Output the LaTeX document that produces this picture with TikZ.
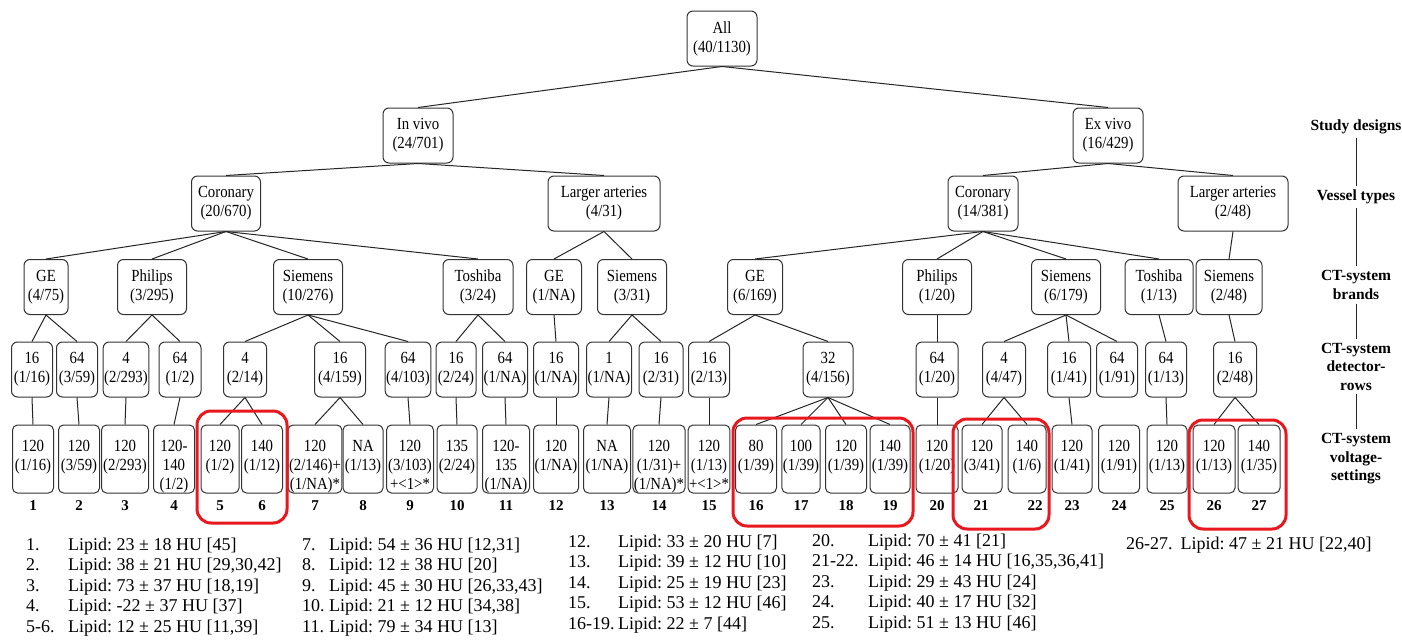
\documentclass[tikz,border=0pt]{standalone}
\usepackage{fontspec}
\setmainfont{Liberation Serif}
\newfontfamily\boxfont[FakeStretch=0.87]{Liberation Serif}
\definecolor{framered}{RGB}{232,24,30}
\frenchspacing
% voltage boxes: text hangs from the top of the box
\newcommand{\vlines}[1]{\raisebox{0pt}[26pt][42pt]{\begin{tabular}[t]{@{}c@{}}#1\end{tabular}}}

\begin{document}
\begin{tikzpicture}[x=1pt, y=-1pt,
    box/.style = {draw=black!80, line width=1pt, rounded corners=6pt, inner sep=1pt,
        font=\boxfont\fontsize{17}{19}\selectfont, align=center, minimum height=55pt},
    volt/.style = {box, rounded corners=5pt, inner ysep=0pt},
    link/.style = {line width=1pt, black!85},
    num/.style = {font=\bfseries\fontsize{15}{17}\selectfont, inner sep=0pt},
    tier/.style = {font=\bfseries\fontsize{15.5}{18.5}\selectfont, align=center, inner sep=4pt},
    redframe/.style = {draw=framered, line width=3pt, rounded corners=14pt},
    legtext/.style = {font=\fontsize{18}{20.5}\selectfont, inner sep=0pt, anchor=base west}]

    \path[use as bounding box, fill=white] (0,0) rectangle (1402,640);

    % study designs
    \node [box, minimum width=70pt] (all) at (722,38.5) {All\\(40/1130)};
    \node [box, minimum width=70pt] (invivo) at (418,135.5) {In vivo\\(24/701)};
    \node [box, minimum width=70pt] (exvivo) at (1108,135.5) {Ex vivo\\(16/429)};

    % vessel types
    \node [box, minimum width=69pt] (c1) at (226,203.5) {Coronary\\(20/670)};
    \node [box, minimum width=112pt] (c2) at (604,203.5) {Larger arteries\\(4/31)};
    \node [box, minimum width=70pt] (c3) at (983,203.5) {Coronary\\(14/381)};
    \node [box, minimum width=110pt] (c4) at (1233,203.5) {Larger arteries\\(2/48)};

    % brands
    \node [box, minimum width=44pt] (b1) at (46,287) {GE\\(4/75)};
    \node [box, minimum width=69pt] (b2) at (152,287) {Philips\\(3/295)};
    \node [box, minimum width=69pt] (b3) at (308,287) {Siemens\\(10/276)};
    \node [box, minimum width=70pt] (b4) at (478,287) {Toshiba\\(3/24)};
    \node [box, minimum width=55pt] (b5) at (554,287) {GE\\(1/NA)};
    \node [box, minimum width=69pt] (b6) at (632,287) {Siemens\\(3/31)};
    \node [box, minimum width=55pt] (b7) at (755,287) {GE\\(6/169)};
    \node [box, minimum width=69pt] (b8) at (937,287) {Philips\\(1/20)};
    \node [box, minimum width=69pt] (b9) at (1066,287) {Siemens\\(6/179)};
    \node [box, minimum width=68pt] (b10) at (1159,287) {Toshiba\\(1/13)};
    \node [box, minimum width=66pt] (b11) at (1229,287) {Siemens\\(2/48)};

    % detector rows
    \node [box, minimum width=41pt] (r1) at (32,369.5) {16\\(1/16)};
    \node [box, minimum width=41pt] (r2) at (77,369.5) {64\\(3/59)};
    \node [box, minimum width=45pt] (r3) at (126,369.5) {4\\(2/293)};
    \node [box, minimum width=42pt] (r4) at (180,369.5) {64\\(1/2)};
    \node [box, minimum width=43pt] (r5) at (245,369.5) {4\\(2/14)};
    \node [box, minimum width=51pt] (r6) at (340,369.5) {16\\(4/159)};
    \node [box, minimum width=44pt] (r7) at (408,369.5) {64\\(4/103)};
    \node [box, minimum width=40pt] (r8) at (456,369.5) {16\\(2/24)};
    \node [box, minimum width=45pt] (r9) at (505,369.5) {64\\(1/NA)};
    \node [box, minimum width=45pt] (r10) at (556,369.5) {16\\(1/NA)};
    \node [box, minimum width=45pt] (r11) at (609,369.5) {1\\(1/NA)};
    \node [box, minimum width=44pt] (r12) at (661,369.5) {16\\(2/31)};
    \node [box, minimum width=41pt] (r13) at (709,369.5) {16\\(2/13)};
    \node [box, minimum width=50pt] (r14) at (828,369.5) {32\\(4/156)};
    \node [box, minimum width=42pt] (r15) at (937,369.5) {64\\(1/20)};
    \node [box, minimum width=43pt] (r16) at (1004,369.5) {4\\(4/47)};
    \node [box, minimum width=43pt] (r17) at (1069,369.5) {16\\(1/41)};
    \node [box, minimum width=41pt] (r18) at (1117,369.5) {64\\(1/91)};
    \node [box, minimum width=41pt] (r19) at (1166,369.5) {64\\(1/13)};
    \node [box, minimum width=43pt] (r20) at (1235,369.5) {16\\(2/48)};

    % voltage settings
    \node [volt, minimum width=41pt] (v1) at (33,459) {\vlines{120\\(1/16)}};
    \node [volt, minimum width=41pt] (v2) at (79,459) {\vlines{120\\(3/59)}};
    \node [volt, minimum width=47pt] (v3) at (125,459) {\vlines{120\\(2/293)}};
    \node [volt, minimum width=41pt] (v4) at (174,459) {\vlines{120-\\140\\(1/2)}};
    \node [volt, minimum width=38pt] (v5) at (220,459) {\vlines{120\\(1/2)}};
    \node [volt, minimum width=41pt] (v6) at (262,459) {\vlines{140\\(1/12)}};
    \node [volt, minimum width=53pt] (v7) at (315,459) {\vlines{120\\(2/146)+\\(1/NA)*}};
    \node [volt, minimum width=40pt] (v8) at (363,459) {\vlines{NA\\(1/13)}};
    \node [volt, minimum width=47pt] (v9) at (410,459) {\vlines{120\\(3/103)\\+<1>*}};
    \node [volt, minimum width=40pt] (v10) at (457,459) {\vlines{135\\(2/24)}};
    \node [volt, minimum width=47pt] (v11) at (506,459) {\vlines{120-\\135\\(1/NA)}};
    \node [volt, minimum width=45pt] (v12) at (556,459) {\vlines{120\\(1/NA)}};
    \node [volt, minimum width=47pt] (v13) at (607,459) {\vlines{NA\\(1/NA)}};
    \node [volt, minimum width=52pt] (v14) at (659,459) {\vlines{120\\(1/31)+\\(1/NA)*}};
    \node [volt, minimum width=41pt] (v15) at (709,459) {\vlines{120\\(1/13)\\+<1>*}};
    \node [volt, minimum width=41pt] (v16) at (756,459) {\vlines{80\\(1/39)}};
    \node [volt, minimum width=37pt] (v17) at (801,459) {\vlines{100\\(1/39)}};
    \node [volt, minimum width=41pt] (v18) at (846,459) {\vlines{120\\(1/39)}};
    \node [volt, minimum width=40pt] (v19) at (890,459) {\vlines{140\\(1/39)}};
    \node [volt, minimum width=42pt] (v20) at (937,459) {\vlines{120\\(1/20)}};
    \node [volt, minimum width=40pt] (v21) at (982,459) {\vlines{120\\(3/41)}};
    \node [volt, minimum width=38pt] (v22) at (1027,459) {\vlines{140\\(1/6)}};
    \node [volt, minimum width=40pt] (v23) at (1072,459) {\vlines{120\\(1/41)}};
    \node [volt, minimum width=41pt] (v24) at (1119,459) {\vlines{120\\(1/91)}};
    \node [volt, minimum width=40pt] (v25) at (1167,459) {\vlines{120\\(1/13)}};
    \node [volt, minimum width=42pt] (v26) at (1214,459) {\vlines{120\\(1/13)}};
    \node [volt, minimum width=42pt] (v27) at (1259,459) {\vlines{140\\(1/35)}};

    % numbers
    \node [num] (n1) at (33,506) {1};
    \node [num] (n2) at (79,506) {2};
    \node [num] (n3) at (125,506) {3};
    \node [num] (n4) at (174,506) {4};
    \node [num] (n5) at (220,506) {5};
    \node [num] (n6) at (262,506) {6};
    \node [num] (n7) at (315,506) {7};
    \node [num] (n8) at (363,506) {8};
    \node [num] (n9) at (410,506) {9};
    \node [num] (n10) at (457,506) {10};
    \node [num] (n11) at (506,506) {11};
    \node [num] (n12) at (556,506) {12};
    \node [num] (n13) at (607,506) {13};
    \node [num] (n14) at (659,506) {14};
    \node [num] (n15) at (709,506) {15};
    \node [num] (n16) at (756,506) {16};
    \node [num] (n17) at (801,506) {17};
    \node [num] (n18) at (846,506) {18};
    \node [num] (n19) at (890,506) {19};
    \node [num] (n20) at (937,506) {20};
    \node [num] (n21) at (981,506) {21};
    \node [num] (n22) at (1035,506) {22};
    \node [num] (n23) at (1072,506) {23};
    \node [num] (n24) at (1119,506) {24};
    \node [num] (n25) at (1167,506) {25};
    \node [num] (n26) at (1214,506) {26};
    \node [num] (n27) at (1259,506) {27};

    % tree links
    \draw[link] (all.south) to (invivo.north);
    \draw[link] (all.south) to (exvivo.north);
    \draw[link] (invivo.south) to (c1.north);
    \draw[link] (invivo.south) to (c2.north);
    \draw[link] (exvivo.south) to (c3.north);
    \draw[link] (exvivo.south) to (c4.north);

    \draw[link] (c1.south) to (b1.north);
    \draw[link] (c1.south) to (b2.north);
    \draw[link] (c1.south) to (b3.north);
    \draw[link] (c1.south) to (b4.north);
    \draw[link] (c2.south) to (b5.north);
    \draw[link] (c2.south) to (b6.north);
    \draw[link] (c3.south) to (b7.north);
    \draw[link] (c3.south) to (b8.north);
    \draw[link] (c3.south) to (b9.north);
    \draw[link] (c3.south) to (b10.north);
    \draw[link] (c4.south) to (b11.north);

    \draw[link] (b1.south) to (r1.north);
    \draw[link] (b1.south) to (r2.north);
    \draw[link] (b2.south) to (r3.north);
    \draw[link] (b2.south) to (r4.north);
    \draw[link] (b3.south) to (r5.north);
    \draw[link] (b3.south) to (r6.north);
    \draw[link] (b3.south) to (r7.north);
    \draw[link] (b4.south) to (r8.north);
    \draw[link] (b4.south) to (r9.north);
    \draw[link] (b5.south) to (r10.north);
    \draw[link] (b6.south) to (r11.north);
    \draw[link] (b6.south) to (r12.north);
    \draw[link] (b7.south) to (r13.north);
    \draw[link] (b7.south) to (r14.north);
    \draw[link] (b8.south) to (r15.north);
    \draw[link] (b9.south) to (r16.north);
    \draw[link] (b9.south) to (r17.north);
    \draw[link] (b9.south) to (r18.north);
    \draw[link] (b10.south) to (r19.north);
    \draw[link] (b11.south) to (r20.north);

    \draw[link] (r1.south) to (v1.north);
    \draw[link] (r2.south) to (v2.north);
    \draw[link] (r3.south) to (v3.north);
    \draw[link] (r4.south) to (v4.north);
    \draw[link] (r5.south) to (v5.north);
    \draw[link] (r5.south) to (v6.north);
    \draw[link] (r6.south) to (v7.north);
    \draw[link] (r6.south) to (v8.north);
    \draw[link] (r7.south) to (v9.north);
    \draw[link] (r8.south) to (v10.north);
    \draw[link] (r9.south) to (v11.north);
    \draw[link] (r10.south) to (v12.north);
    \draw[link] (r11.south) to (v13.north);
    \draw[link] (r12.south) to (v14.north);
    \draw[link] (r13.south) to (v15.north);
    \draw[link] (r14.south) to (v16.north);
    \draw[link] (r14.south) to (v17.north);
    \draw[link] (r14.south) to (v18.north);
    \draw[link] (r14.south) to (v19.north);
    \draw[link] (r15.south) to (v20.north);
    \draw[link] (r16.south) to (v21.north);
    \draw[link] (r16.south) to (v22.north);
    \draw[link] (r17.south) to (v23.north);
    \draw[link] (r19.south) to (v25.north);
    \draw[link] (r20.south) to (v26.north);
    \draw[link] (r20.south) to (v27.north);

    % grouped settings
    \draw[redframe] (197,411) rectangle (287,523);
    \draw[redframe] (733,418) rectangle (913,526);
    \draw[redframe] (953,419) rectangle (1049,529);
    \draw[redframe] (1189,420) rectangle (1286,529);

    % tiers on the right
    \node [tier] (t1) at (1356,127) {Study designs};
    \node [tier] (t2) at (1356,197) {Vessel types};
    \node [tier] (t3) at (1356,285) {CT-system\\brands};
    \node [tier] (t4) at (1356,366.5) {CT-system\\detector-\\rows};
    \node [tier] (t5) at (1356,459) {CT-system\\voltage-\\settings};
    \draw[link] (t1.south) to (t2.north);
    \draw[link] (t2.south) to (t3.north);
    \draw[link] (t3.south) to (t4.north);
    \draw[link] (t4.south) to (t5.north);

    % legend
    \node [legtext] (leg1) at (26,550) {\begin{tabular}[t]{@{}p{42pt}@{}l@{}}
        1. & Lipid: 23 ± 18 HU [45]\\
        2. & Lipid: 38 ± 21 HU [29,30,42]\\
        3. & Lipid: 73 ± 37 HU [18,19]\\
        4. & Lipid: -22 ± 37 HU [37]\\
        5-6. & Lipid: 12 ± 25 HU [11,39]
    \end{tabular}};
    \node [legtext] (leg2) at (302,550) {\begin{tabular}[t]{@{}p{27pt}@{}l@{}}
        7. & Lipid: 54 ± 36 HU [12,31]\\
        8. & Lipid: 12 ± 38 HU [20]\\
        9. & Lipid: 45 ± 30 HU [26,33,43]\\
        10. & Lipid: 21 ± 12 HU [34,38]\\
        11. & Lipid: 79 ± 34 HU [13]
    \end{tabular}};
    \node [legtext] (leg3) at (568,547) {\begin{tabular}[t]{@{}p{50pt}@{}l@{}}
        12. & Lipid: 33 ± 20 HU [7]\\
        13. & Lipid: 39 ± 12 HU [10]\\
        14. & Lipid: 25 ± 19 HU [23]\\
        15. & Lipid: 53 ± 12 HU [46]\\
        16-19. & Lipid: 22 ± 7 [44]
    \end{tabular}};
    \node [legtext] (leg4) at (812,546) {\begin{tabular}[t]{@{}p{56pt}@{}l@{}}
        20. & Lipid: 70 ± 41 [21]\\
        21-22. & Lipid: 46 ± 14 HU [16,35,36,41]\\
        23. & Lipid: 29 ± 43 HU [24]\\
        24. & Lipid: 40 ± 17 HU [32]\\
        25. & Lipid: 51 ± 13 HU [46]
    \end{tabular}};
    \node [legtext] (leg5) at (1126,549) {26-27.\hspace{8pt}Lipid: 47 ± 21 HU [22,40]};

\end{tikzpicture}
\end{document}
